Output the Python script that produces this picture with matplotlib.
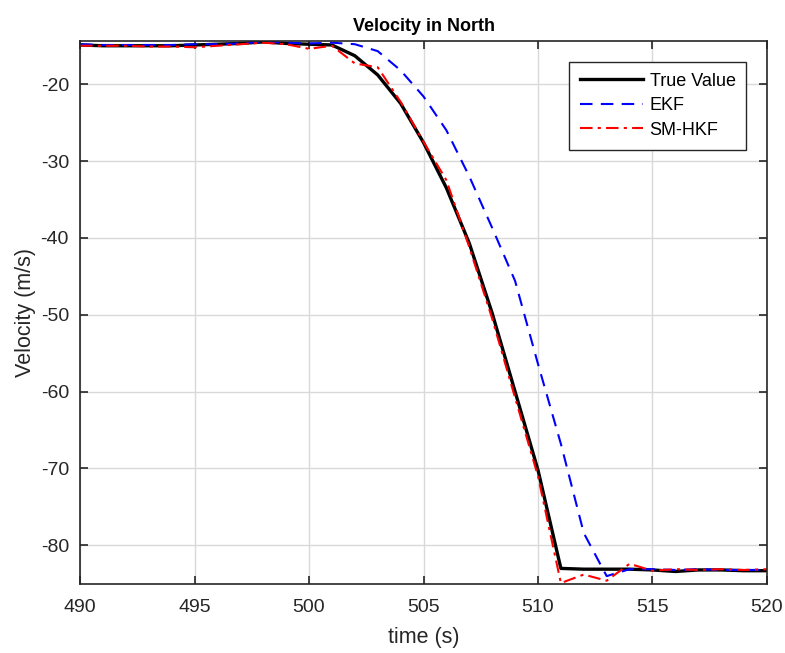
import numpy as np
import matplotlib
matplotlib.use('Agg')
import matplotlib.pyplot as plt

plt.rcParams['font.family'] = ['Liberation Sans', 'DejaVu Sans']
plt.rcParams['axes.unicode_minus'] = False

# time axis (s)
t = np.arange(490, 521)

# velocity in north (m/s)
true_v = [-14.9, -15.0, -15.0, -15.0, -15.0, -14.9, -14.8, -14.7, -14.5, -14.7,
          -14.8, -14.9, -16.3, -18.8, -22.5, -27.6, -33.5, -40.7, -49.8, -60.0,
          -70.2, -83.0, -83.1, -83.1, -83.1, -83.2, -83.4, -83.2, -83.2, -83.3, -83.3]
ekf_v = [-14.8, -14.9, -14.9, -14.9, -14.9, -14.8, -14.8, -14.7, -14.5, -14.6,
         -14.7, -14.6, -14.8, -15.7, -18.2, -21.6, -26.0, -32.0, -38.7, -45.6,
         -56.4, -66.8, -78.4, -84.0, -83.1, -83.1, -83.2, -83.1, -83.2, -83.2, -83.2]
hkf_v = [-15.0, -15.0, -15.0, -15.1, -15.1, -15.2, -15.0, -14.8, -14.6, -14.8,
         -15.4, -15.0, -17.3, -17.8, -22.3, -27.5, -32.5, -41.2, -50.5, -60.8,
         -71.0, -84.9, -83.8, -84.6, -82.4, -83.3, -83.1, -83.2, -83.1, -83.2, -83.1]

fig = plt.figure(figsize=(7.85, 6.53), dpi=100)
ax = fig.add_axes([0.102, 0.106, 0.875, 0.831])

ax.plot(t, true_v, color='black', lw=2.4, label='True Value')
ax.plot(t, ekf_v, color='blue', lw=1.5, ls=(0, (6, 4)), label='EKF')
ax.plot(t, hkf_v, color='red', lw=1.5, ls=(0, (6, 2.5, 1.5, 2.5)), label='SM-HKF')

ax.set_xlim(490, 520)
ax.set_ylim(-85, -14.4)
ax.set_xticks(np.arange(490, 521, 5))
ax.set_yticks(np.arange(-80, -19, 10))

ax.grid(True, color='#d9d9d9', lw=1.0)
ax.set_axisbelow(True)
for s in ax.spines.values():
    s.set_color('#262626')
    s.set_linewidth(1.2)
ax.tick_params(direction='in', top=True, right=True, length=6, width=1.2,
               color='#262626', labelcolor='#262626', labelsize=14)
ax.tick_params(axis='x', pad=11)
ax.tick_params(axis='y', pad=8)

ax.set_title('Velocity in North', fontsize=13, fontweight='bold', pad=7)
ax.set_xlabel('time (s)', fontsize=15.5, color='#262626', labelpad=8)
ax.set_ylabel('Velocity (m/s)', fontsize=15.5, color='#262626', labelpad=3)

leg = ax.legend(loc='upper right', bbox_to_anchor=(0.97, 0.962), fontsize=13,
                fancybox=False, framealpha=1, edgecolor='#262626',
                handlelength=3.5, handletextpad=0.35, borderpad=0.6,
                labelspacing=0.42, borderaxespad=0)
leg.get_frame().set_linewidth(1.0)

fig.savefig('out.png', dpi=100)
